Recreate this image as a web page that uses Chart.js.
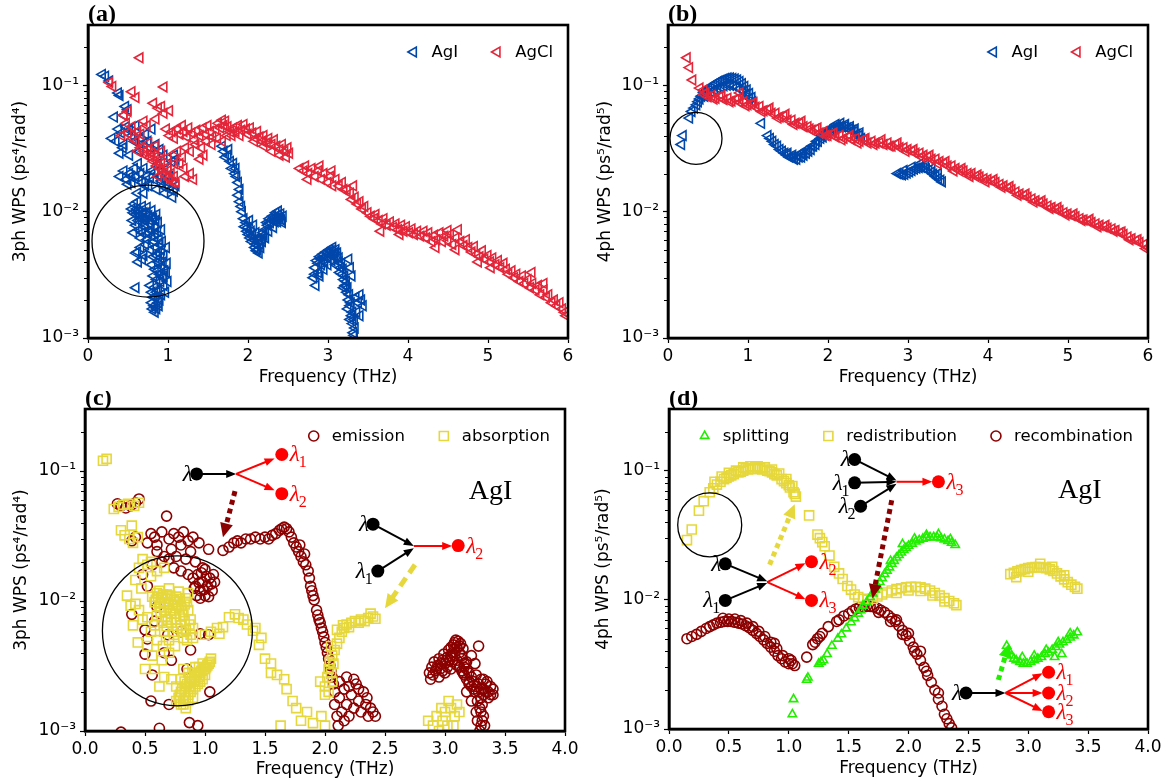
<!DOCTYPE html>
<html>
<head>
<meta charset="utf-8">
<script src="https://cdn.jsdelivr.net/npm/chart.js@4.4.1/dist/chart.umd.min.js"></script>
<style>
  body { margin: 0; background: #fff; }
  #fig { position: relative; width: 1170px; height: 783px; }
  #fig canvas { position: absolute; }
</style>
</head>
<body>
<div id="fig">
  <canvas id="pa" width="585" height="391" style="left:0;top:0"></canvas>
  <canvas id="pb" width="585" height="391" style="left:585px;top:0"></canvas>
  <canvas id="pc" width="585" height="392" style="left:0;top:391px"></canvas>
  <canvas id="pd" width="585" height="392" style="left:585px;top:391px"></canvas>
</div>
<script>
// ---- tick labels ----
const freqTicks6 = [0, 1, 2, 3, 4, 5, 6];
const freqTicks4 = [0, 0.5, 1, 1.5, 2, 2.5, 3, 3.5, 4];
const wpsTicks = [0.001, 0.01, 0.1];

// ---- (a) 3ph WPS, [frequency THz, WPS] ----
const agi3ph = [
  [0.18,0.122],[0.22,0.118],[0.27,0.108],[0.38,0.087],[0.40,0.083],[0.47,0.068],[0.50,0.064],[0.33,0.056],[0.45,0.058],
  [0.30,0.038],[0.35,0.036],[0.38,0.045],[0.42,0.042],[0.45,0.034],[0.48,0.047],[0.52,0.044],[0.55,0.040],[0.58,0.036],
  [0.60,0.048],[0.62,0.043],[0.40,0.029],[0.44,0.032],[0.66,0.038],[0.70,0.035],[0.72,0.041],[0.75,0.036],[0.78,0.032],
  [0.85,0.034],[0.90,0.031],[0.95,0.028],[0.80,0.045],[0.65,0.030],[0.52,0.028],
  [0.48,0.018],[0.52,0.020],[0.55,0.017],[0.58,0.022],[0.60,0.019],[0.63,0.024],[0.66,0.020],[0.68,0.017],[0.70,0.022],
  [0.73,0.019],[0.76,0.016],[0.80,0.021],[0.83,0.018],[0.86,0.015],[0.90,0.019],[0.93,0.016],[0.96,0.014],[1.00,0.017],
  [1.03,0.015],[1.06,0.013],[0.62,0.014],[0.70,0.014],[0.88,0.024],[1.00,0.022],[1.05,0.025],[1.08,0.028],[1.10,0.026],
  [0.40,0.019],[0.45,0.021],[0.50,0.0165],[0.54,0.019],[0.64,0.0175],[0.72,0.016],[0.78,0.0185],[0.84,0.0205],[0.92,0.0175],
  [0.98,0.0155],[1.02,0.019],[1.08,0.0145],[1.10,0.016],
  [0.55,0.0105],[0.58,0.0115],[0.60,0.0095],[0.62,0.012],[0.64,0.010],[0.66,0.0088],[0.68,0.011],[0.70,0.0098],[0.72,0.0085],
  [0.74,0.0108],[0.76,0.0093],[0.78,0.0080],[0.80,0.0102],[0.82,0.0088],[0.84,0.0075],[0.86,0.0095],[0.88,0.0082],[0.56,0.0085],
  [0.60,0.0078],[0.64,0.0072],[0.68,0.0068],[0.72,0.0075],[0.76,0.0068],[0.80,0.0064],[0.84,0.0067],[0.57,0.0068],[0.66,0.0062],
  [0.74,0.0060],[0.92,0.0072],[0.93,0.0058],[0.57,0.0098],[0.61,0.0105],[0.65,0.0095],[0.69,0.0090],[0.73,0.0098],[0.77,0.0086],
  [0.81,0.0092],[0.85,0.0085],[0.63,0.0085],[0.71,0.0080],[0.79,0.0072],[0.87,0.0070],[0.83,0.0058],[0.89,0.0060],
  [0.62,0.0048],[0.66,0.0052],[0.70,0.0045],[0.72,0.0055],[0.78,0.0050],[0.82,0.0044],[0.85,0.0052],[0.88,0.0047],[0.90,0.0055],
  [0.92,0.0050],[0.95,0.0045],[0.98,0.0052],[0.80,0.0038],[0.84,0.0035],[0.88,0.0040],[0.92,0.0037],[0.96,0.0034],[0.99,0.0039],
  [0.82,0.0031],[0.86,0.0029],[0.90,0.0032],[0.94,0.0030],[0.98,0.0033],[1.00,0.0028],[0.68,0.0042],[0.60,0.0025],[0.63,0.0040],
  [0.60,0.0047],[0.86,0.0045],[0.91,0.0043],[0.94,0.0040],[0.87,0.0034],[0.91,0.0028],[0.95,0.0031],
  [0.78,0.0026],[0.80,0.0023],[0.83,0.0025],[0.85,0.0021],[0.88,0.0024],[0.90,0.0020],[0.92,0.0022],[0.80,0.0019],[0.83,0.0018],
  [0.86,0.0017],[0.88,0.0019],[0.95,0.0026],[0.97,0.0023],[0.84,0.0016],[0.82,0.0021],[0.86,0.0023],[0.89,0.0018],[0.81,0.0017],
  [1.68,0.033],[1.70,0.030],[1.72,0.027],[1.75,0.028],[1.78,0.025],[1.80,0.022],[1.82,0.024],[1.84,0.020],[1.86,0.019],
  [1.88,0.017],[1.90,0.015],[1.88,0.0135],[1.90,0.012],[1.92,0.011],[1.93,0.010],[1.85,0.022],[1.76,0.031],
  [1.95,0.0088],[1.98,0.0082],[2.00,0.0075],[2.02,0.0085],[2.04,0.0070],[2.06,0.0065],[2.08,0.0060],[2.10,0.0055],[2.12,0.0050],
  [2.14,0.0047],[2.16,0.0052],[2.18,0.0058],[2.03,0.0062],[2.07,0.0078],[2.10,0.0068],[2.13,0.0060],[2.20,0.0065],[2.22,0.0072],
  [2.25,0.0078],[2.28,0.0082],[2.30,0.0086],[2.33,0.0090],[2.36,0.0088],[2.38,0.0094],[2.40,0.0090],[2.42,0.0086],[2.44,0.0092],
  [2.26,0.0070],[2.32,0.0075],[2.35,0.0098],[2.38,0.0101],[2.22,0.0062],[2.15,0.0056],[1.96,0.0076],[1.99,0.0070],[2.01,0.0066],
  [2.05,0.0058],[2.09,0.0052],[2.11,0.0049],[2.17,0.0061],[2.19,0.0068],[2.24,0.0082],[2.27,0.0088],[2.31,0.0092],[2.34,0.0083],
  [2.37,0.0083],[2.41,0.0096],[2.43,0.0082],
  [2.82,0.0030],[2.84,0.0036],[2.86,0.0041],[2.88,0.0033],[2.90,0.0044],[2.92,0.0038],[2.94,0.0046],[2.96,0.0040],[2.98,0.0048],
  [3.00,0.0043],[3.02,0.0050],[3.04,0.0045],[3.06,0.0052],[3.08,0.0047],[3.10,0.0050],[3.12,0.0044],[3.14,0.0040],[3.16,0.0036],
  [3.18,0.0032],[3.20,0.0029],[3.22,0.0026],[3.24,0.0023],[3.26,0.0020],[3.28,0.0018],[3.30,0.0015],[3.31,0.0013],[3.32,0.0011],
  [3.33,0.00105],[2.90,0.0031],[2.95,0.0035],[3.00,0.0038],[3.05,0.0041],[3.10,0.0038],[3.15,0.0033],[3.20,0.0025],[3.25,0.0017],
  [2.85,0.0026],[3.28,0.0014],[3.26,0.0042],[3.28,0.0036],[3.30,0.0031],[3.36,0.0016],[3.38,0.0019],[3.40,0.0022],[3.42,0.0020],
  [3.44,0.0018],[3.40,0.0015],[3.35,0.0021],[2.84,0.0032],[2.88,0.0039],[2.92,0.0042],[2.96,0.0044],[3.00,0.0047],[3.04,0.0049],
  [3.08,0.0044],[3.12,0.0047],[3.14,0.0043],[3.17,0.0039],[3.19,0.0035],[3.21,0.0031],[3.23,0.0028],[3.25,0.0025],[3.27,0.0022],
  [3.29,0.0019],[3.31,0.0016],[3.33,0.0014],[3.34,0.0012]
];
const agcl3ph = [
  [0.65,0.165],[0.27,0.105],[0.31,0.098],[0.95,0.097],[0.55,0.089],[0.60,0.080],[0.82,0.072],[0.88,0.066],[0.92,0.068],
  [0.95,0.060],[1.02,0.063],[0.50,0.062],[0.45,0.058],[0.48,0.050],[0.55,0.047],[0.62,0.043],[0.70,0.052],[0.74,0.048],
  [0.85,0.054],[0.42,0.040],[0.50,0.042],[0.56,0.038],[0.60,0.036],[0.66,0.041],
  [0.62,0.030],[0.66,0.032],[0.70,0.030],[0.72,0.028],[0.75,0.031],[0.78,0.027],[0.80,0.029],[0.82,0.025],[0.84,0.027],
  [0.86,0.023],[0.88,0.025],[0.90,0.022],[0.92,0.024],[0.94,0.020],[0.96,0.022],[0.98,0.019],[1.00,0.021],[1.02,0.018],
  [1.04,0.020],[1.06,0.017],[1.08,0.019],[1.10,0.017],[0.76,0.035],[0.84,0.033],[0.92,0.030],[1.00,0.027],[1.08,0.024],
  [0.88,0.019],
  [0.98,0.045],[1.02,0.040],[1.05,0.043],[1.08,0.038],[1.12,0.045],[1.15,0.041],[1.18,0.048],[1.20,0.043],[1.24,0.039],
  [1.26,0.046],[1.30,0.042],[1.33,0.037],[1.36,0.044],[1.40,0.040],[1.44,0.046],[1.47,0.041],[1.50,0.048],[1.53,0.043],
  [1.56,0.039],[1.60,0.045],[1.63,0.050],[1.66,0.046],[1.68,0.053],[1.70,0.048],[1.72,0.052],[1.75,0.047],[1.78,0.043],
  [1.80,0.040],[1.12,0.030],[1.18,0.027],[1.22,0.032],[1.28,0.030],[1.35,0.034],[1.42,0.032],[1.48,0.036],[1.55,0.034],
  [1.62,0.038],[1.68,0.036],[1.74,0.040],[1.20,0.022],[1.15,0.024],[1.45,0.028],[1.40,0.026],[1.22,0.019],[1.28,0.020],
  [1.32,0.018],
  [1.82,0.046],[1.85,0.043],[1.88,0.048],[1.92,0.044],[1.95,0.049],[1.98,0.045],[2.00,0.041],[2.03,0.046],[2.06,0.042],
  [2.10,0.038],[2.12,0.043],[2.15,0.039],[2.18,0.036],[2.20,0.040],[2.24,0.035],[2.26,0.038],[2.30,0.034],[2.33,0.037],
  [2.36,0.033],[2.40,0.031],[2.43,0.034],[2.46,0.030],[2.50,0.032],[2.52,0.029],[2.48,0.027],[2.40,0.028],[2.30,0.030],
  [2.20,0.033],[2.08,0.036],[1.90,0.040],
  [2.65,0.022],[2.70,0.021],[2.72,0.023],[2.76,0.020],[2.80,0.022],[2.84,0.019],[2.88,0.021],[2.92,0.018],[2.95,0.020],
  [3.00,0.017],[3.03,0.019],[3.06,0.016],[3.10,0.018],[3.14,0.016],[3.18,0.017],[3.20,0.015],[2.75,0.018],[2.90,0.023],
  [3.05,0.021],
  [3.24,0.015],[3.28,0.014],[3.30,0.0125],[3.34,0.013],[3.37,0.0115],[3.40,0.012],[3.43,0.0105],[3.46,0.011],[3.50,0.0098],
  [3.32,0.016],
  [3.54,0.0092],[3.58,0.0088],[3.60,0.0095],[3.64,0.0085],[3.68,0.0080],[3.70,0.0088],[3.74,0.0078],[3.78,0.0083],[3.82,0.0075],
  [3.85,0.0080],[3.88,0.0072],[3.92,0.0078],[3.95,0.0070],[3.98,0.0076],[4.02,0.0068],[4.05,0.0073],[4.08,0.0066],[4.12,0.0070],
  [3.66,0.0070],[3.90,0.0066],
  [4.16,0.0064],[4.20,0.0070],[4.23,0.0062],[4.26,0.0068],[4.30,0.0058],[4.33,0.0065],[4.36,0.0060],[4.40,0.0068],[4.43,0.0058],
  [4.46,0.0064],[4.50,0.0059],[4.53,0.0066],[4.56,0.0055],[4.60,0.0062],[4.63,0.0072],[4.66,0.0058],[4.70,0.0054],[4.73,0.0060],
  [4.35,0.0052],[4.50,0.0071],[4.60,0.0050],
  [4.76,0.0052],[4.80,0.0048],[4.83,0.0053],[4.86,0.0046],[4.90,0.0044],[4.93,0.0049],[4.96,0.0042],[5.00,0.0045],[5.03,0.0040],
  [5.06,0.0043],[5.10,0.0038],[5.13,0.0041],[5.16,0.0036],[5.20,0.0039],[4.88,0.0040],[5.04,0.0036],
  [5.23,0.0035],[5.26,0.0032],[5.30,0.0034],[5.33,0.0030],[5.36,0.0032],[5.40,0.0028],[5.43,0.0031],[5.46,0.0027],[5.50,0.0029],
  [5.53,0.0025],[5.56,0.0027],[5.60,0.0024],[5.63,0.0026],[5.66,0.0022],[5.70,0.0024],[5.73,0.0021],[5.76,0.0022],[5.80,0.0019],
  [5.83,0.0020],[5.86,0.0018],[5.90,0.0019],[5.93,0.0017],[5.96,0.0016],[5.98,0.0015],[5.55,0.0033],[5.70,0.0027]
];

// ---- (b) 4ph WPS ----
const agi4ph = [
  [0.17,0.034],[0.19,0.040],[0.27,0.055],[0.30,0.062],[0.33,0.066],[0.36,0.070],[0.38,0.074],[0.40,0.078],[0.42,0.082],
  [0.45,0.088],[0.48,0.091],[0.51,0.095],[0.54,0.098],[0.57,0.101],[0.60,0.104],[0.63,0.107],[0.66,0.109],[0.69,0.111],
  [0.72,0.113],[0.75,0.114],[0.78,0.114],[0.81,0.113],[0.84,0.112],[0.87,0.110],[0.90,0.107],[0.93,0.103],[0.96,0.098],
  [0.99,0.092],[1.02,0.086],[1.05,0.080],
  [0.46,0.082],[0.50,0.086],[0.54,0.089],[0.58,0.092],[0.62,0.095],[0.66,0.097],[0.70,0.099],[0.74,0.100],[0.78,0.100],
  [0.82,0.099],[0.86,0.097],[0.90,0.094],[0.94,0.090],[0.98,0.085],[1.02,0.079],[1.06,0.074],
  [1.17,0.050],[1.25,0.040],[1.28,0.038],[1.31,0.036],[1.34,0.034],[1.37,0.033],[1.40,0.031],[1.43,0.030],[1.46,0.029],
  [1.49,0.028],[1.52,0.027],[1.55,0.027],[1.58,0.026],[1.61,0.026],[1.64,0.027],[1.67,0.027],[1.70,0.028],[1.73,0.029],
  [1.76,0.030],[1.79,0.031],[1.82,0.033],[1.85,0.034],[1.88,0.036],[1.91,0.038],[1.94,0.039],[1.97,0.041],[2.00,0.042],
  [2.03,0.044],[2.06,0.045],[2.09,0.046],[2.12,0.047],[2.15,0.047],[2.18,0.047],[2.21,0.047],[2.24,0.046],[2.27,0.045],
  [2.30,0.044],[2.33,0.043],[2.36,0.041],[2.39,0.040],[2.42,0.038],[2.45,0.037],
  [1.50,0.029],[1.56,0.028],[1.62,0.028],[1.68,0.029],[1.74,0.031],[1.80,0.033],[1.86,0.036],[1.92,0.040],[1.98,0.043],
  [2.04,0.046],[2.10,0.049],[2.16,0.050],[2.22,0.049],[2.28,0.047],[2.34,0.045],[2.40,0.042],
  [2.87,0.0200],[2.90,0.0198],[2.93,0.0196],[2.96,0.0198],[2.99,0.0202],[3.02,0.0207],[3.05,0.0212],[3.08,0.0217],[3.11,0.0221],
  [3.14,0.0223],[3.17,0.0224],[3.20,0.0222],[3.23,0.0218],[3.26,0.0212],[3.29,0.0205],[3.32,0.0198],[3.35,0.0190],[3.38,0.0183],
  [3.41,0.0177],[3.43,0.0172],[2.95,0.0212],[3.05,0.0225],[3.15,0.0238],[3.22,0.0235],[3.30,0.0220],[3.38,0.0200]
];
const agcl4ph = [
  [0.24,0.165],[0.27,0.138],[0.31,0.110],[0.40,0.095],[0.45,0.092],[0.90,0.087],
  [0.45,0.085],[0.50,0.081],[0.55,0.083],[0.60,0.079],[0.65,0.081],[0.70,0.077],[0.75,0.079],[0.80,0.075],[0.85,0.077],
  [0.90,0.073],[0.95,0.074],[1.00,0.070],[1.05,0.071],[1.10,0.067],[1.15,0.068],[1.20,0.063],[1.25,0.064],[1.30,0.060],
  [1.35,0.060],[1.40,0.056],[1.45,0.057],[1.50,0.053],[1.55,0.053],[1.60,0.050],[1.65,0.050],[1.70,0.047],[1.75,0.047],
  [1.80,0.044],[1.85,0.045],[1.90,0.042],[1.95,0.043],[2.00,0.040],[2.05,0.041],[2.10,0.039],[2.15,0.040],[2.20,0.038],
  [2.25,0.039],[2.30,0.037],[2.35,0.038],[2.40,0.036],[2.45,0.037],[2.50,0.035],[2.55,0.036],[2.60,0.035],[2.65,0.035],
  [2.70,0.034],[2.75,0.035],[2.80,0.033],[2.85,0.034],[2.90,0.032],[2.95,0.032],[3.00,0.031],[3.05,0.030],[3.10,0.029],
  [3.15,0.029],[3.20,0.028],[3.25,0.027],[3.30,0.026],[3.35,0.026],[3.40,0.025],[3.45,0.024],[3.50,0.023],[3.55,0.023],
  [3.60,0.022],[3.65,0.021],[3.70,0.021],[3.75,0.020],[3.80,0.020],[3.85,0.019],[3.90,0.0188],[3.95,0.0182],[4.00,0.0180],
  [4.05,0.0174],[4.10,0.0170],[4.15,0.0164],[4.20,0.0160],[4.25,0.0153],[4.30,0.0149],[4.35,0.0143],[4.40,0.0138],[4.45,0.0134],
  [4.50,0.0130],[4.55,0.0126],[4.60,0.0122],[4.65,0.0118],[4.70,0.0115],[4.75,0.0111],[4.80,0.0108],[4.85,0.0104],[4.90,0.0102],
  [4.95,0.0098],[5.00,0.0096],[5.05,0.0093],[5.10,0.0091],[5.15,0.0088],[5.20,0.0086],[5.25,0.0084],[5.30,0.0082],[5.35,0.0080],
  [5.40,0.0078],[5.45,0.0076],[5.50,0.0074],[5.55,0.0073],[5.60,0.0071],[5.65,0.0068],[5.70,0.0066],[5.75,0.0063],[5.80,0.0061],
  [5.85,0.0059],[5.90,0.0057],[5.95,0.0055],[6.00,0.0052],
  [0.475,0.087],[0.575,0.078],[0.675,0.083],[0.775,0.074],[0.875,0.079],[0.975,0.069],[1.075,0.073],[1.175,0.062],[1.275,0.066],
  [1.375,0.055],[1.475,0.059],[1.575,0.049],[1.675,0.052],[1.775,0.045],[1.875,0.046],[1.975,0.040],[2.075,0.042],[2.175,0.037],
  [2.275,0.040],[2.375,0.035],[2.475,0.038],[2.575,0.034],[2.675,0.037],[2.775,0.033],[2.875,0.035],[2.975,0.030],[3.075,0.031],
  [3.175,0.027],[3.275,0.028],[3.375,0.024],[3.475,0.025],[3.575,0.021],[3.675,0.022],[3.775,0.019],[3.875,0.0195],[3.975,0.0172],
  [4.075,0.0180],[4.175,0.0156],[4.275,0.0158],[4.375,0.0135],[4.475,0.0138],[4.575,0.0119],[4.675,0.0122],[4.775,0.0106],
  [4.875,0.0108],[4.975,0.0094],[5.075,0.0096],[5.175,0.0085],[5.275,0.0087],[5.375,0.0076],[5.475,0.0078],[5.575,0.0070],
  [5.675,0.0069],[5.775,0.0060],[5.875,0.0060],[5.975,0.0051]
];

// ---- (c) AgI 3ph channels ----
const emission3ph = [
  [0.27,0.056],[0.30,0.054],[0.34,0.052],[0.38,0.054],[0.42,0.057],[0.45,0.061],[0.68,0.045],
  [0.39,0.029],[0.42,0.031],[0.55,0.033],[0.58,0.031],[0.52,0.028],[0.60,0.027],[0.64,0.034],[0.70,0.030],[0.74,0.033],
  [0.78,0.031],[0.82,0.034],[0.86,0.029],[0.90,0.031],[0.95,0.028],[1.03,0.025],[0.72,0.025],[0.80,0.027],[0.88,0.024],
  [0.66,0.022],[0.60,0.024],[0.56,0.019],[0.64,0.020],[0.70,0.021],[0.76,0.022],[0.84,0.021],[0.92,0.020],[0.98,0.018],
  [0.74,0.018],[0.80,0.017],[0.86,0.016],[0.48,0.016],[0.52,0.013],
  [0.90,0.015],[0.92,0.013],[0.94,0.016],[0.96,0.012],[0.98,0.014],[1.00,0.011],[1.02,0.013],[1.04,0.015],[1.06,0.012],
  [1.08,0.014],[0.93,0.011],[0.97,0.0165],[1.01,0.0155],[1.05,0.0135],[0.95,0.0138],[0.99,0.0122],[1.03,0.0108],[0.91,0.0125],
  [1.07,0.016],[0.96,0.0105],[1.00,0.0175],
  [0.39,0.0079],[0.50,0.0039],[0.56,0.0027],[0.55,0.0017],[0.70,0.0016],[0.87,0.00116],[0.94,0.0011],[0.62,0.00105],[1.04,0.0020],
  [1.03,0.0055],[0.96,0.0056],[0.69,0.0055],[0.50,0.0060],[0.52,0.0051],[0.80,0.0058],[0.88,0.0042],[0.60,0.0090],[0.58,0.0070],
  [0.30,0.00098],[0.72,0.0035],[0.85,0.0030],[0.66,0.0040],
  [1.15,0.0245],[1.20,0.026],[1.24,0.028],[1.27,0.029],[1.30,0.028],[1.34,0.030],[1.38,0.030],[1.42,0.031],[1.46,0.030],
  [1.50,0.031],[1.53,0.030],[1.56,0.032],[1.59,0.033],[1.62,0.035],[1.64,0.036],[1.66,0.037],[1.68,0.036],[1.70,0.034],
  [1.72,0.031],[1.74,0.028],[1.76,0.026],[1.78,0.024],[1.80,0.022],[1.82,0.020],[1.84,0.019],[1.86,0.017],[1.87,0.015],
  [1.88,0.013],[1.89,0.012],[1.90,0.011],[1.91,0.0102],[1.93,0.0085],[1.94,0.0078],[1.95,0.0072],[1.96,0.0068],[1.97,0.0062],
  [1.98,0.0058],[1.99,0.0053],[2.00,0.0048],[2.01,0.0044],[2.02,0.0040],[2.03,0.0036],[2.04,0.0032],[2.05,0.0029],[2.06,0.0026],
  [2.07,0.0023],[2.08,0.0020],[1.83,0.023],[1.79,0.027],
  [2.08,0.0016],[2.10,0.0013],[2.12,0.0018],[2.14,0.0014],[2.16,0.0021],[2.18,0.0016],[2.20,0.0013],[2.22,0.0019],[2.24,0.0015],
  [2.26,0.0023],[2.28,0.0017],[2.30,0.0014],[2.32,0.0020],[2.34,0.0016],[2.36,0.0013],[2.38,0.0015],[2.40,0.0014],[2.42,0.0013],
  [2.12,0.0024],[2.18,0.0026],[2.24,0.0025],[2.28,0.0021],[2.11,0.0011],[2.16,0.0012],[2.35,0.0018],[2.20,0.0022],
  [2.87,0.0028],[2.89,0.0031],[2.91,0.0034],[2.93,0.0030],[2.95,0.0036],[2.97,0.0033],[2.99,0.0039],[3.01,0.0035],[3.03,0.0042],
  [3.05,0.0038],[3.07,0.0046],[3.09,0.0050],[3.10,0.0044],[3.12,0.0040],[3.13,0.0047],[3.14,0.0036],[3.16,0.0033],[3.18,0.0030],
  [3.20,0.0028],[3.22,0.0026],[3.24,0.0024],[3.26,0.0027],[3.28,0.0023],[3.30,0.0025],[3.32,0.0021],[3.34,0.0023],[3.36,0.0020],
  [3.38,0.0022],[3.40,0.0019],[3.30,0.0018],[3.31,0.0016],[3.30,0.0014],[3.31,0.0012],[3.30,0.0011],[3.29,0.0010],[3.22,0.0038],
  [3.25,0.0033],[3.00,0.0028],[3.05,0.0030],[3.10,0.0032],[3.15,0.0028],[3.20,0.0023],[3.25,0.0020],[3.22,0.0017],[3.18,0.0020],
  [3.15,0.0043],[3.11,0.0049],[2.95,0.0026],[3.28,0.0045],
  [2.88,0.0025],[2.90,0.0027],[2.92,0.0029],[2.94,0.0032],[2.96,0.0030],[2.98,0.0035],[3.00,0.0033],[3.02,0.0037],[3.04,0.0035],
  [3.06,0.0040],[3.08,0.0043],[3.06,0.0034],[3.08,0.0038],[3.10,0.0035],[3.12,0.0031],[3.14,0.0029],[3.16,0.0027],[3.18,0.0025],
  [3.20,0.0024],[3.22,0.0022],[3.24,0.0021],[3.26,0.0022],[3.28,0.0020],[3.30,0.0021],[3.32,0.0019],[3.34,0.0020],[3.36,0.0018],
  [3.38,0.0019],[3.40,0.0021],[3.35,0.0024],[3.32,0.0025],[3.27,0.0017],[3.29,0.0015],[3.32,0.0013],[3.33,0.0011],[3.27,0.0012],
  [3.26,0.0014],[3.08,0.0048],[3.05,0.0044],[3.12,0.0045],[3.14,0.0038],[3.18,0.0034],[3.16,0.0031],[3.02,0.0031],[2.98,0.0029]
];
const absorption3ph = [
  [0.15,0.120],[0.18,0.124],
  [0.24,0.051],[0.28,0.053],[0.32,0.055],[0.36,0.056],[0.41,0.054],[0.45,0.057],
  [0.30,0.035],[0.33,0.032],[0.37,0.030],[0.39,0.038],[0.40,0.028],[0.44,0.031],
  [0.45,0.018],[0.48,0.021],[0.52,0.019],[0.55,0.020],[0.60,0.017],[0.66,0.018],[0.42,0.0145],[0.55,0.0155],[0.47,0.0125],
  [0.56,0.0108],[0.58,0.0098],[0.60,0.0115],[0.62,0.0090],[0.64,0.0105],[0.66,0.0085],[0.68,0.0112],[0.70,0.0095],[0.72,0.0080],
  [0.74,0.0102],[0.76,0.0088],[0.78,0.0118],[0.80,0.0092],[0.82,0.0078],[0.84,0.0105],[0.86,0.0085],[0.88,0.0072],[0.60,0.0078],
  [0.64,0.0070],[0.68,0.0064],[0.72,0.0068],[0.76,0.0072],[0.80,0.0065],[0.84,0.0060],[0.58,0.0065],[0.66,0.0058],[0.74,0.0055],
  [0.82,0.0052],[0.88,0.0055],[0.62,0.0120],[0.70,0.0125],[0.76,0.0108],[0.86,0.0115],[0.90,0.0062],[0.55,0.0058],[0.70,0.0050],
  [0.59,0.0102],[0.61,0.0108],[0.63,0.0096],[0.65,0.0112],[0.67,0.0098],[0.69,0.0104],[0.71,0.0110],[0.73,0.0094],[0.75,0.0098],
  [0.77,0.0092],[0.79,0.0104],[0.81,0.0086],[0.83,0.0094],[0.85,0.0098],[0.63,0.0082],[0.67,0.0076],[0.71,0.0084],[0.75,0.0080],
  [0.79,0.0076],[0.83,0.0070],[0.87,0.0066],[0.69,0.0072],[0.77,0.0062],[0.81,0.0058],[0.73,0.0058],
  [0.35,0.011],[0.38,0.0092],[0.42,0.0095],[0.45,0.0085],[0.48,0.0072],[0.40,0.0065],[0.52,0.0075],[0.44,0.0048],[0.52,0.0045],
  [0.60,0.0050],[0.65,0.0045],[0.56,0.0038],[0.64,0.0035],[0.50,0.0030],[0.58,0.0030],[0.70,0.0040],[0.75,0.0045],[0.85,0.0050],
  [0.90,0.0052],[0.66,0.0026],[0.72,0.0025],[0.62,0.0022],
  [0.78,0.0018],[0.80,0.0020],[0.82,0.0017],[0.84,0.0022],[0.86,0.0019],[0.88,0.0024],[0.90,0.0021],[0.92,0.0026],[0.94,0.0023],
  [0.96,0.0028],[0.98,0.0025],[1.00,0.0030],[1.02,0.0032],[1.04,0.0034],[1.05,0.0036],[0.80,0.0016],[0.84,0.0018],[0.88,0.0020],
  [0.92,0.0022],[0.96,0.0024],[1.00,0.0027],[0.76,0.0022],[0.80,0.0025],[0.86,0.0028],[0.92,0.0031],[0.98,0.0033],[0.82,0.0030],
  [0.76,0.0017],[0.84,0.0015],[0.79,0.0019],[0.81,0.0021],[0.83,0.0020],[0.85,0.0023],[0.87,0.0022],[0.89,0.0025],[0.91,0.0024],
  [0.93,0.0027],[0.95,0.0026],[0.97,0.0029],[0.99,0.0030],[1.01,0.0031],[1.03,0.0033],[0.87,0.0026],[0.91,0.0028],[0.95,0.0031],
  [0.83,0.0024],[0.79,0.0017],[0.82,0.0016],[0.86,0.0017],[0.90,0.0018],
  [1.00,0.0055],[1.05,0.0058],[1.10,0.0062],[1.15,0.0063],[1.12,0.0056],[1.20,0.0075],[1.25,0.0079],[1.28,0.0074],[1.32,0.0072],
  [1.35,0.0066],[1.40,0.0059],[1.42,0.0062],[1.45,0.0046],[1.47,0.0052],[1.50,0.0036],[1.55,0.0033],[1.60,0.0027],[1.66,0.0025],
  [1.68,0.0021],[1.73,0.0017],[1.76,0.0015],[1.63,0.0011],[1.90,0.00115],[1.85,0.0014],[1.80,0.0012],[1.96,0.0024],[2.00,0.0019],
  [1.97,0.0013],[2.00,0.0011],[1.55,0.0028],
  [2.00,0.0022],[2.02,0.0026],[2.03,0.0030],[2.05,0.0028],[2.04,0.0034],[2.06,0.0038],[2.07,0.0033],[2.08,0.0042],[2.10,0.0047],
  [2.12,0.0052],[2.14,0.0058],[2.16,0.0062],[2.18,0.0066],[2.20,0.0063],[2.22,0.0068],[2.25,0.0070],[2.28,0.0068],[2.30,0.0072],
  [2.33,0.0070],[2.36,0.0074],[2.40,0.0076],[2.42,0.0073],[2.38,0.0080],[2.10,0.0060],[2.15,0.0065],[2.05,0.0045],[2.03,0.0020],
  [2.06,0.0024],
  [2.86,0.0012],[2.90,0.0011],[2.93,0.0013],[2.95,0.0010],[2.98,0.0012],[3.00,0.0014],[3.02,0.0011],[3.05,0.0015],[3.08,0.0013],
  [3.10,0.0016],[3.12,0.0014],[2.97,0.0015],[3.03,0.0017],[3.07,0.0011]
];

// ---- (d) AgI 4ph channels ----
const splitting4ph = [
  [1.03,0.0013],[1.04,0.0017],[1.15,0.0024],[1.16,0.0025],[1.25,0.0032],[1.27,0.0033],[1.29,0.0034],[1.32,0.0038],[1.36,0.0044],
  [1.41,0.0050],[1.44,0.0054],[1.48,0.0060],[1.52,0.0067],[1.55,0.0072],[1.58,0.0078],[1.60,0.0083],[1.62,0.0090],[1.65,0.0096],
  [1.68,0.0105],[1.70,0.0112],[1.72,0.0120],[1.74,0.0128],[1.76,0.0137],[1.78,0.0147],[1.80,0.0158],[1.82,0.0168],[1.84,0.0178],
  [1.86,0.0190],[1.88,0.0200],[1.90,0.0212],[1.92,0.0222],[1.94,0.0232],[1.96,0.0243],[1.98,0.0252],[2.00,0.0262],[2.03,0.0272],
  [2.06,0.0282],[2.09,0.0290],[2.12,0.0297],[2.15,0.0302],[2.18,0.0305],[2.21,0.0306],[2.24,0.0304],[2.27,0.0300],[2.30,0.0293],
  [2.33,0.0285],[2.36,0.0276],[2.39,0.0266],[2.05,0.0298],[2.15,0.0318],[2.25,0.0322],[2.35,0.0295],[1.95,0.0270],[1.85,0.0200],
  [2.82,0.0044],[2.84,0.0040],[2.86,0.0037],[2.88,0.0035],[2.90,0.0034],[2.93,0.0033],[2.96,0.0032],[2.99,0.0032],[3.02,0.0033],
  [3.05,0.0034],[3.08,0.0035],[3.11,0.0036],[3.14,0.0038],[3.17,0.0039],[3.20,0.0041],[3.23,0.0043],[3.26,0.0045],[3.29,0.0047],
  [3.32,0.0049],[3.35,0.0051],[3.38,0.0053],[3.41,0.0056],[2.95,0.0036],[3.05,0.0037],[3.15,0.0041],[3.25,0.0047],[3.35,0.0055],
  [3.28,0.0038],[3.22,0.0036]
];
const redistribution4ph = [
  [0.15,0.029],[0.19,0.035],[0.25,0.049],[0.29,0.058],[0.34,0.068],[0.37,0.073],[0.40,0.078],[0.43,0.082],[0.46,0.086],
  [0.50,0.090],[0.54,0.094],[0.58,0.097],[0.62,0.100],[0.66,0.102],[0.70,0.103],[0.74,0.103],[0.78,0.102],[0.82,0.100],
  [0.86,0.097],[0.90,0.092],[0.94,0.086],[0.98,0.080],[1.01,0.074],[1.04,0.068],[1.06,0.063],[0.44,0.090],[0.50,0.096],
  [0.56,0.100],[0.62,0.106],[0.68,0.108],[0.74,0.108],[0.80,0.106],[0.86,0.102],[0.92,0.095],[0.98,0.086],[1.03,0.076],
  [0.38,0.082],[0.48,0.088],[0.52,0.092],[0.60,0.098],[0.64,0.104],[0.72,0.106],[0.76,0.105],[0.84,0.099],[0.88,0.094],
  [0.96,0.083],[1.00,0.077],[1.05,0.066],
  [1.17,0.045],[1.24,0.032],[1.26,0.030],[1.28,0.028],[1.30,0.026],[1.34,0.022],[1.38,0.018],[1.42,0.016],[1.45,0.0145],
  [1.49,0.0128],[1.52,0.012],[1.55,0.011],[1.58,0.0105],[1.62,0.0102],[1.66,0.0100],
  [1.70,0.0102],[1.74,0.0106],[1.78,0.0110],[1.82,0.0114],[1.86,0.0118],[1.90,0.0121],[1.94,0.0123],[1.98,0.0125],[2.02,0.0126],
  [2.06,0.0126],[2.10,0.0125],[2.14,0.0122],[2.18,0.0118],[2.22,0.0113],[2.26,0.0108],[2.30,0.0103],[2.34,0.0098],[2.38,0.0094],
  [2.40,0.0091],[1.90,0.0113],[2.00,0.0118],[2.10,0.0117],[2.20,0.0108],[2.30,0.0097],
  [2.85,0.0158],[2.88,0.0162],[2.91,0.0166],[2.94,0.0170],[2.97,0.0173],[3.00,0.0176],[3.03,0.0178],[3.06,0.0179],[3.09,0.0179],
  [3.12,0.0178],[3.15,0.0176],[3.18,0.0172],[3.21,0.0167],[3.24,0.0160],[3.27,0.0152],[3.30,0.0144],[3.33,0.0137],[3.36,0.0131],
  [3.39,0.0126],[3.41,0.0122],[2.90,0.0150],[3.00,0.0165],[3.10,0.0190],[3.20,0.0180],[3.30,0.0155]
];
const recombination4ph = [
  [0.15,0.0050],[0.19,0.0052],[0.23,0.0054],[0.27,0.0057],[0.31,0.0060],[0.34,0.0062],[0.37,0.0064],[0.40,0.0066],[0.43,0.0067],
  [0.46,0.0068],[0.49,0.0068],[0.52,0.0068],[0.55,0.0067],[0.58,0.0066],[0.61,0.0065],[0.64,0.0063],[0.67,0.0061],[0.70,0.0058],
  [0.73,0.0055],[0.76,0.0052],[0.79,0.0049],[0.82,0.0046],[0.85,0.0043],[0.88,0.0040],[0.91,0.0037],[0.94,0.0035],[0.97,0.0033],
  [1.00,0.0032],[1.03,0.0032],[1.05,0.0031],[0.45,0.0072],[0.55,0.0071],[0.65,0.0066],[0.75,0.0057],[0.85,0.0047],[0.95,0.0037],
  [1.02,0.0034],[0.88,0.0046],[0.50,0.0071],[0.60,0.0069],[0.70,0.0062],[0.80,0.0052],[0.90,0.0042],[1.00,0.0035],
  [1.15,0.0036],[1.20,0.0045],[1.22,0.0047],[1.24,0.0050],[1.26,0.0052],[1.28,0.0055],[1.33,0.0062],[1.40,0.0068],[1.42,0.0070],
  [1.46,0.0075],[1.50,0.0078],[1.53,0.0082],[1.56,0.0085],[1.59,0.0087],[1.62,0.0088],[1.65,0.0089],[1.68,0.0089],[1.71,0.0088],
  [1.74,0.0086],[1.77,0.0083],[1.80,0.0080],[1.83,0.0076],[1.86,0.0072],[1.89,0.0068],[1.92,0.0063],[1.95,0.0058],[1.98,0.0053],
  [2.01,0.0048],[2.04,0.0043],[2.07,0.0038],[2.10,0.0034],[2.13,0.0030],[2.16,0.0026],[2.19,0.0023],[2.22,0.0020],[2.25,0.0017],
  [2.28,0.0015],[2.30,0.0013],[2.32,0.0012],[2.34,0.0011],[2.36,0.00102],[1.75,0.0080],[1.85,0.0068],[1.95,0.0054],[2.05,0.0040],
  [2.15,0.0028],[2.25,0.0019],[1.90,0.0070],[2.00,0.0055],[2.10,0.0040]
];

// ---- styling helpers ----
const SANS = '"DejaVu Sans", sans-serif';
const SERIF = '"Liberation Serif", "Times New Roman", serif';
const BLUE = '#0047ab', RED = '#e3263a', DARKRED = '#8b0000', YELLOW = '#e6d83c', GREEN = '#22ee00';
const EMPTY = 'rgba(0,0,0,0)';

function supNum(n) {
  const m = { '-': '⁻', '0': '⁰', '1': '¹', '2': '²', '3': '³' };
  return String(n).split('').map(c => m[c]).join('');
}
function decadeLabel(v) {
  const e = Math.log10(v);
  return Math.abs(e - Math.round(e)) < 1e-6 ? '10' + supNum(Math.round(e)) : '';
}

function arrowHead(ctx, x1, y1, x2, y2, len, wid) {
  const a = Math.atan2(y2 - y1, x2 - x1), c = Math.cos(a), s = Math.sin(a);
  ctx.beginPath();
  ctx.moveTo(x2, y2);
  ctx.lineTo(x2 - len * c + wid / 2 * s, y2 - len * s - wid / 2 * c);
  ctx.lineTo(x2 - len * c - wid / 2 * s, y2 - len * s + wid / 2 * c);
  ctx.closePath();
  ctx.fill();
}

function drawMark(ctx, m, X, Y) {
  if (m.type === 'ring') {
    ctx.strokeStyle = '#000'; ctx.lineWidth = 1.3;
    ctx.beginPath(); ctx.arc(X(m.at[0]), Y(m.at[1]), m.r, 0, 2 * Math.PI); ctx.stroke();
  } else if (m.type === 'arrow') {
    const x1 = X(m.from[0]), y1 = Y(m.from[1]), x2 = X(m.to[0]), y2 = Y(m.to[1]);
    const a = Math.atan2(y2 - y1, x2 - x1), hl = m.head[0];
    ctx.strokeStyle = m.color; ctx.fillStyle = m.color; ctx.lineWidth = m.width;
    ctx.setLineDash(m.dash || []);
    ctx.beginPath(); ctx.moveTo(x1, y1); ctx.lineTo(x2 - hl * 0.7 * Math.cos(a), y2 - hl * 0.7 * Math.sin(a)); ctx.stroke();
    ctx.setLineDash([]);
    arrowHead(ctx, x1, y1, x2, y2, hl, m.head[1]);
  } else if (m.type === 'dot') {
    const x = X(m.at[0]), y = Y(m.at[1]);
    const big = 'italic 23px ' + SERIF, small = '16px ' + SERIF;
    ctx.font = big; const w1 = ctx.measureText('λ').width;
    ctx.font = small; const w2 = m.sub ? ctx.measureText(m.sub).width : 0;
    const x0 = m.side === 'left' ? x - 4 - w1 - w2 : x + 8;
    ctx.fillStyle = m.color; ctx.textAlign = 'left'; ctx.textBaseline = 'alphabetic';
    ctx.font = big; ctx.fillText('λ', x0, y + 7);
    if (m.sub) { ctx.font = small; ctx.fillText(m.sub, x0 + w1 - 1, y + 13); }
    ctx.beginPath(); ctx.arc(x, y, 6.5, 0, 2 * Math.PI); ctx.fill();
  } else if (m.type === 'text') {
    ctx.fillStyle = '#000'; ctx.font = '28px ' + SERIF; ctx.textAlign = 'center'; ctx.textBaseline = 'middle';
    ctx.fillText(m.text, X(m.at[0]), Y(m.at[1]));
  }
}

const figurePlugin = {
  id: 'figure',
  afterDatasetsDraw(chart, args, opts) {
    const ctx = chart.ctx, xs = chart.scales.x, ys = chart.scales.y;
    const X = v => xs.getPixelForValue(v), Y = v => ys.getPixelForValue(v);
    ctx.save();
    (opts.marks || []).forEach(m => drawMark(ctx, m, X, Y));
    ctx.restore();
  },
  afterDraw(chart, args, opts) {
    const ctx = chart.ctx, area = chart.chartArea, ys = chart.scales.y;
    ctx.save();
    // frame
    ctx.strokeStyle = '#000'; ctx.lineWidth = 2.6;
    ctx.strokeRect(area.left, area.top, area.right - area.left, area.bottom - area.top);
    // minor log ticks
    ctx.lineWidth = 1;
    wpsTicks.forEach(d => {
      for (let k = 2; k < 10; k++) {
        const v = d * k;
        if (v >= ys.max) continue;
        const y = Math.round(ys.getPixelForValue(v)) + 0.5;
        ctx.beginPath(); ctx.moveTo(area.left - 1, y); ctx.lineTo(area.left - 4, y); ctx.stroke();
      }
    });
    // legend
    ctx.font = '16.5px ' + SANS;
    const items = chart.data.datasets.map(d => ({ ds: d, w: ctx.measureText(d.label).width }));
    let total = 0;
    items.forEach((it, i) => { total += 18 + it.w + (i < items.length - 1 ? 39 : 0); });
    let cx = area.right - 15 - total;
    const cy = area.top + 27;
    items.forEach(it => {
      const d = it.ds;
      ctx.strokeStyle = d.borderColor; ctx.fillStyle = EMPTY; ctx.lineWidth = d.borderWidth;
      Chart.helpers.drawPoint(ctx, { pointStyle: d.pointStyle, rotation: d.rotation || 0, radius: d.pointRadius, borderWidth: d.borderWidth }, cx, cy);
      ctx.fillStyle = '#000'; ctx.textAlign = 'left'; ctx.textBaseline = 'middle';
      ctx.fillText(d.label, cx + 18, cy + 1);
      cx += 18 + it.w + 39;
    });
    // panel letter
    ctx.font = 'bold 24px ' + SERIF; ctx.fillStyle = '#000'; ctx.textAlign = 'left'; ctx.textBaseline = 'alphabetic';
    ctx.fillText(opts.panel, area.left, area.top - 4);
    ctx.restore();
  }
};

function series(label, data, color, style, radius, order, rotation) {
  return {
    label, data, order,
    pointStyle: style, rotation: rotation || 0, pointRadius: radius, pointHoverRadius: radius,
    borderColor: color, backgroundColor: EMPTY, borderWidth: 1.6, showLine: false, clip: 0
  };
}

function makePanel(id, cfg) {
  const font = { family: SANS, size: 17 };
  return new Chart(document.getElementById(id), {
    type: 'scatter',
    data: { datasets: cfg.datasets },
    options: {
      responsive: false, animation: false, devicePixelRatio: 1, events: [],
      layout: { padding: { left: 0, top: cfg.top, right: cfg.right, bottom: 0 } },
      plugins: {
        legend: { display: false }, tooltip: { enabled: false },
        figure: { panel: cfg.panel, marks: cfg.marks }
      },
      scales: {
        x: {
          type: 'linear', min: 0, max: cfg.freqTicks[cfg.freqTicks.length - 1],
          afterBuildTicks: s => { s.ticks = cfg.freqTicks.map(v => ({ value: v })); },
          ticks: { font, color: '#000', padding: 3, maxRotation: 0, autoSkip: false,
                   callback: v => cfg.fixed ? Number(v).toFixed(1) : String(v) },
          grid: { drawOnChartArea: false, tickLength: 5, tickWidth: 1.2, tickColor: '#000' },
          border: { color: '#000', width: 2.6 },
          title: { display: true, text: 'Frequency (THz)', font, color: '#000', padding: { top: 0, bottom: cfg.xTitlePad } },
          afterFit: s => { s.height = cfg.xHeight; }
        },
        y: {
          type: 'logarithmic', min: 0.001, max: cfg.ymax,
          afterBuildTicks: s => { s.ticks = wpsTicks.map(v => ({ value: v })); },
          ticks: { font, color: '#000', padding: 4, autoSkip: false, callback: v => decadeLabel(v) },
          grid: { drawOnChartArea: false, tickLength: 5, tickWidth: 1.2, tickColor: '#000' },
          border: { color: '#000', width: 2.6 },
          title: { display: true, text: cfg.yTitle, font, color: '#000', padding: { top: cfg.yTitlePad, bottom: 0 } },
          afterFit: s => { s.width = cfg.yWidth; }
        }
      }
    },
    plugins: [figurePlugin]
  });
}

const tri = -90;
makePanel('pa', {
  panel: '(a)', top: 25, right: 17, xHeight: 53, yWidth: 88, ymax: 0.3, xTitlePad: 3, yTitlePad: 10,
  freqTicks: freqTicks6, fixed: false, yTitle: '3ph WPS (ps⁴/rad⁴)',
  datasets: [series('AgI', agi3ph, BLUE, 'triangle', 5.6, 2, tri), series('AgCl', agcl3ph, RED, 'triangle', 5.6, 1, tri)],
  marks: [{ type: 'ring', at: [0.75, 0.00585], r: 56 }]
});
makePanel('pb', {
  panel: '(b)', top: 25, right: 22, xHeight: 53, yWidth: 83, ymax: 0.3, xTitlePad: 3, yTitlePad: 10,
  freqTicks: freqTicks6, fixed: false, yTitle: '4ph WPS (ps⁵/rad⁵)',
  datasets: [series('AgI', agi4ph, BLUE, 'triangle', 5.6, 2, tri), series('AgCl', agcl4ph, RED, 'triangle', 5.6, 1, tri)],
  marks: [{ type: 'ring', at: [0.35, 0.038], r: 26 }]
});

const blackArrow = { type: 'arrow', color: '#000', width: 2, head: [10, 8] };
const redArrow = { type: 'arrow', color: '#ff0000', width: 2, head: [10, 8] };
makePanel('pc', {
  panel: '(c)', top: 18, right: 20, xHeight: 52, yWidth: 85, ymax: 0.3, xTitlePad: 3, yTitlePad: 11,
  freqTicks: freqTicks4, fixed: true, yTitle: '3ph WPS (ps⁴/rad⁴)',
  datasets: [series('emission', emission3ph, DARKRED, 'circle', 5, 2), series('absorption', absorption3ph, YELLOW, 'rect', 6.4, 1)],
  marks: [
    { type: 'ring', at: [0.77, 0.0059], r: 75 },
    Object.assign({ from: [0.93, 0.095], to: [1.26, 0.095] }, blackArrow),
    Object.assign({ from: [1.26, 0.095], to: [1.58, 0.125] }, redArrow),
    Object.assign({ from: [1.26, 0.095], to: [1.58, 0.071] }, redArrow),
    { type: 'dot', at: [0.93, 0.095], color: '#000', side: 'left' },
    { type: 'dot', at: [1.64, 0.134], color: '#ff0000', sub: '1', side: 'right' },
    { type: 'dot', at: [1.64, 0.067], color: '#ff0000', sub: '2', side: 'right' },
    { type: 'arrow', from: [1.25, 0.070], to: [1.15, 0.031], color: DARKRED, width: 5, dash: [5, 4], head: [14, 13] },
    Object.assign({ from: [2.40, 0.039], to: [2.74, 0.0265] }, blackArrow),
    Object.assign({ from: [2.44, 0.017], to: [2.74, 0.0255] }, blackArrow),
    Object.assign({ from: [2.74, 0.0265], to: [3.06, 0.0265] }, redArrow),
    { type: 'dot', at: [2.40, 0.039], color: '#000', side: 'left' },
    { type: 'dot', at: [2.44, 0.017], color: '#000', sub: '1', side: 'left' },
    { type: 'dot', at: [3.11, 0.0267], color: '#ff0000', sub: '2', side: 'right' },
    { type: 'arrow', from: [2.75, 0.019], to: [2.50, 0.0088], color: YELLOW, width: 5, dash: [10, 6], head: [14, 13] },
    { type: 'text', at: [3.38, 0.07], text: 'AgI' }
  ]
});
makePanel('pd', {
  panel: '(d)', top: 18, right: 22, xHeight: 54, yWidth: 84, ymax: 0.3, xTitlePad: 4, yTitlePad: 8,
  freqTicks: freqTicks4, fixed: true, yTitle: '4ph WPS (ps⁵/rad⁵)',
  datasets: [
    series('splitting', splitting4ph, GREEN, 'triangle', 4.8, 1),
    series('redistribution', redistribution4ph, YELLOW, 'rect', 6.4, 2),
    series('recombination', recombination4ph, DARKRED, 'circle', 5, 3)
  ],
  marks: [
    { type: 'ring', at: [0.34, 0.038], r: 32 },
    Object.assign({ from: [0.47, 0.019], to: [0.82, 0.0139] }, blackArrow),
    Object.assign({ from: [0.47, 0.0099], to: [0.82, 0.0135] }, blackArrow),
    Object.assign({ from: [0.82, 0.0137], to: [1.14, 0.0192] }, redArrow),
    Object.assign({ from: [0.82, 0.0137], to: [1.14, 0.0101] }, redArrow),
    { type: 'dot', at: [0.47, 0.019], color: '#000', side: 'left' },
    { type: 'dot', at: [0.47, 0.0099], color: '#000', sub: '1', side: 'left' },
    { type: 'dot', at: [1.19, 0.0197], color: '#ff0000', sub: '2', side: 'right' },
    { type: 'dot', at: [1.19, 0.0099], color: '#ff0000', sub: '3', side: 'right' },
    { type: 'arrow', from: [0.84, 0.0187], to: [1.05, 0.055], color: YELLOW, width: 5, dash: [5, 4], head: [14, 13] },
    Object.assign({ from: [1.55, 0.122], to: [1.90, 0.084] }, blackArrow),
    Object.assign({ from: [1.55, 0.0805], to: [1.90, 0.082] }, blackArrow),
    Object.assign({ from: [1.60, 0.053], to: [1.90, 0.079] }, blackArrow),
    Object.assign({ from: [1.90, 0.082], to: [2.20, 0.082] }, redArrow),
    { type: 'dot', at: [1.55, 0.122], color: '#000', side: 'left' },
    { type: 'dot', at: [1.55, 0.0805], color: '#000', sub: '1', side: 'left' },
    { type: 'dot', at: [1.60, 0.053], color: '#000', sub: '2', side: 'left' },
    { type: 'dot', at: [2.25, 0.082], color: '#ff0000', sub: '3', side: 'right' },
    { type: 'arrow', from: [1.86, 0.059], to: [1.70, 0.0103], color: DARKRED, width: 5, dash: [5, 4], head: [14, 13] },
    Object.assign({ from: [2.48, 0.0019], to: [2.81, 0.0019] }, blackArrow),
    Object.assign({ from: [2.81, 0.0019], to: [3.12, 0.0027] }, redArrow),
    Object.assign({ from: [2.81, 0.0019], to: [3.12, 0.0019] }, redArrow),
    Object.assign({ from: [2.81, 0.0019], to: [3.12, 0.00138] }, redArrow),
    { type: 'dot', at: [2.48, 0.0019], color: '#000', side: 'left' },
    { type: 'dot', at: [3.17, 0.00275], color: '#ff0000', sub: '1', side: 'right' },
    { type: 'dot', at: [3.17, 0.0019], color: '#ff0000', sub: '2', side: 'right' },
    { type: 'dot', at: [3.17, 0.00136], color: '#ff0000', sub: '3', side: 'right' },
    { type: 'arrow', from: [2.75, 0.0024], to: [2.84, 0.0046], color: GREEN, width: 5, dash: [5, 4], head: [14, 13] },
    { type: 'text', at: [3.43, 0.07], text: 'AgI' }
  ]
});
</script>
</body>
</html>
